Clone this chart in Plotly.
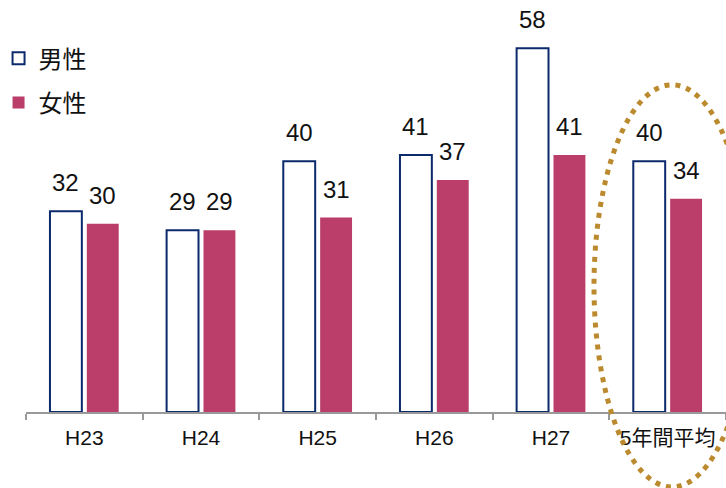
import plotly.graph_objects as go

categories = ["H23", "H24", "H25", "H26", "H27", "5年間平均"]
male = [32, 29, 40, 41, 58, 40]
female = [30, 29, 31, 37, 41, 34]
series_names = ["男性", "女性"]

NAVY = "#0B2A6B"
PINK = "#BA3D6A"
GOLD = "#BC8A2E"
FONT = "Liberation Sans, Arial, Noto Sans CJK JP"

W, H = 726, 488
PLOT_LEFT = 26

fig = go.Figure()
fig.add_trace(go.Bar(
    x=categories, y=male, name=series_names[0], legendgroup="m",
    marker=dict(color="white", line=dict(color=NAVY, width=2)),
))
fig.add_trace(go.Bar(
    x=categories, y=female, name=series_names[1], legendgroup="f",
    marker=dict(color=PINK, line=dict(width=0)),
))

for vals, shift in ((male, -18.5), (female, 18.5)):
    for c, v in zip(categories, vals):
        fig.add_annotation(
            x=c, y=v, text=str(v), showarrow=False, xshift=shift, yshift=13,
            yanchor="bottom", font=dict(size=24, color="#111", family=FONT),
        )

fig.add_shape(
    type="circle", xref="paper", yref="paper",
    x0=594 / W, x1=750 / W, y0=-0.182, y1=0.794,
    line=dict(color=GOLD, width=5, dash="5px,6px"), layer="above",
)

fig.update_layout(
    width=W, height=H,
    margin=dict(l=0, r=0, t=0, b=76, autoexpand=False),
    paper_bgcolor="white", plot_bgcolor="white",
    barmode="group", bargap=0.368, bargroupgap=0.135,
    font=dict(family=FONT, color="#111"),
    showlegend=True,
    legend=dict(
        x=-0.002, y=0.912, xanchor="left", yanchor="top",
        font=dict(size=24, family=FONT, color="#111"),
        tracegroupgap=10, traceorder="grouped",
        bgcolor="rgba(0,0,0,0)", itemwidth=30,
    ),
    xaxis=dict(
        type="category", domain=[PLOT_LEFT / W, 1],
        tickson="boundaries", ticks="outside", ticklen=6, tickcolor="#999", tickwidth=2,
        showline=True, linecolor="#999", linewidth=2, showgrid=False,
        tickfont=dict(size=21, family=FONT, color="#111"), ticklabelstandoff=6,
        automargin=False,
    ),
    yaxis=dict(visible=False, range=[0, 65.7], showgrid=False, zeroline=False,
               automargin=False),
)

fig.write_html("out.html", config={"displayModeBar": False},
               post_script="document.body.style.margin='0';")
